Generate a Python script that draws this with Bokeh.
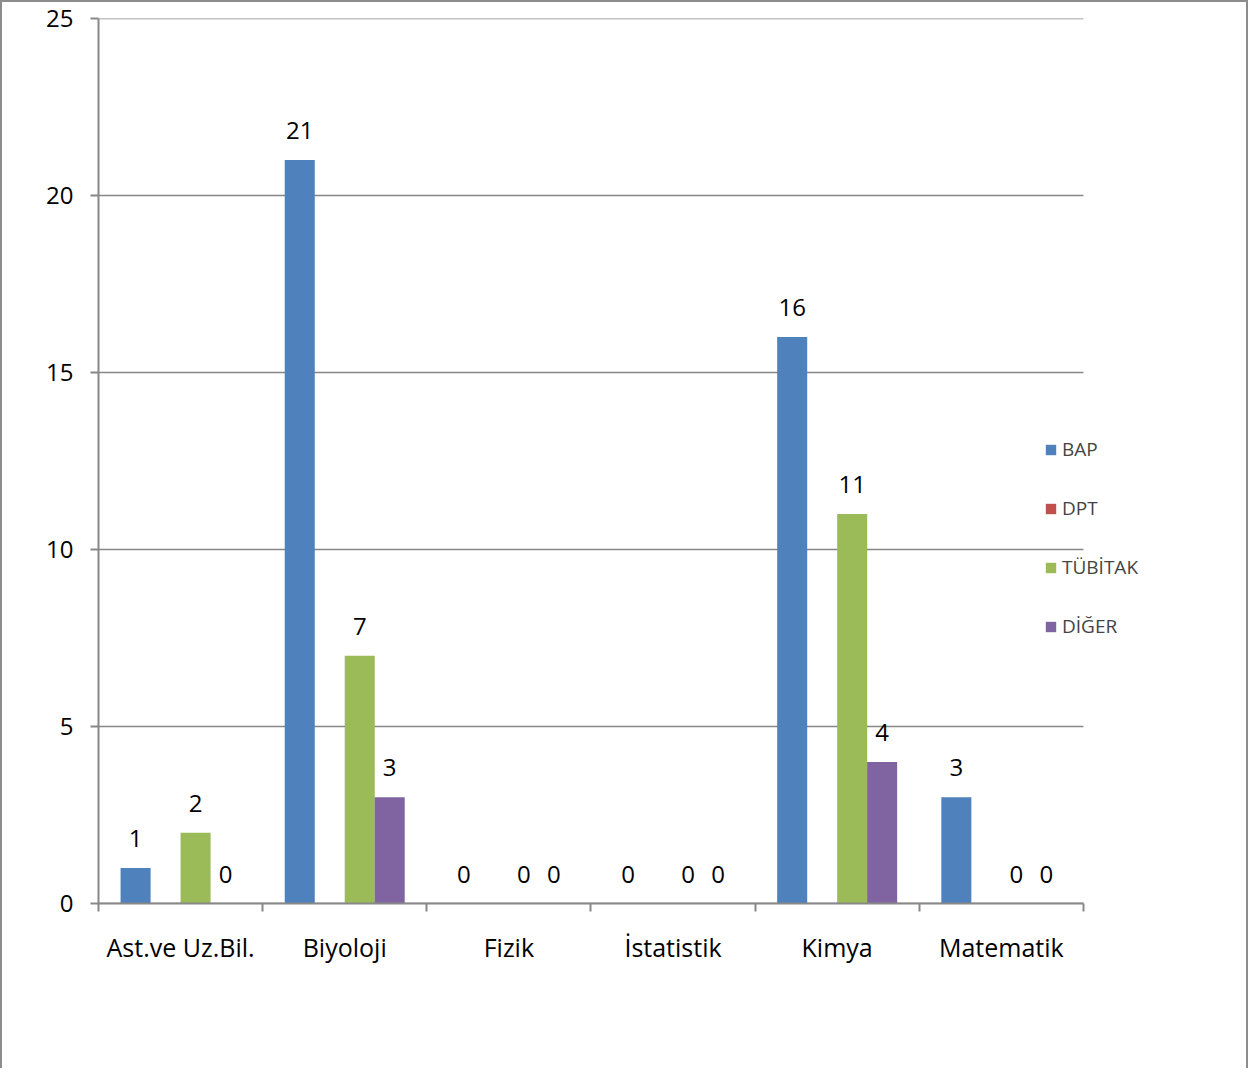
import numpy as np
from bokeh.plotting import figure
from bokeh.models import ColumnDataSource, FixedTicker, Legend, LegendItem, Range1d
from bokeh.core.properties import value
from bokeh.embed import file_html
from bokeh.resources import INLINE

categories = ["Ast.ve Uz.Bil.", "Biyoloji", "Fizik", "İstatistik", "Kimya", "Matematik"]
series_names = ["BAP", "DPT", "TÜBİTAK", "DİĞER"]
bap = [1, 21, 0, 0, 16, 3]
dpt = [np.nan, np.nan, np.nan, np.nan, np.nan, np.nan]
tubitak = [2, 7, 0, 0, 11, 0]
diger = [0, 3, 0, 0, 4, 0]
colors = ["#4F81BD", "#C0504D", "#9BBB59", "#8064A2"]
y_ticks = [0, 5, 10, 15, 20, 25]

FONT = "Open Sans"
offsets = [-0.274, -0.0915, 0.0915, 0.274]
bar_w = 0.183
n = len(categories)

p = figure(width=1248, height=1068, output_backend="svg", toolbar_location=None,
           x_range=Range1d(0, n + 0.75), y_range=Range1d(0, 25),
           min_border_left=96, min_border_right=44, min_border_top=16, min_border_bottom=167)
p.styles = {"border": "2px solid #8c8c8c", "border-bottom": "none"}
p.outline_line_color = None
p.background_fill_color = "white"
p.border_fill_color = "white"

# horizontal gridlines spanning the category axis only
gsrc = ColumnDataSource(dict(x0=[0] * len(y_ticks), x1=[n] * len(y_ticks), y=y_ticks))
p.segment(x0="x0", x1="x1", y0="y", y1="y", source=gsrc, line_color="#868686", line_width=1.5)

centers = np.arange(n) + 0.5
renderers = []
for name, vals, col, off in zip(series_names, [bap, dpt, tubitak, diger], colors, offsets):
    vals = np.array(vals, dtype=float)
    src = ColumnDataSource(dict(x=centers + off, top=vals))
    r = p.vbar(x="x", top="top", width=bar_w, bottom=0, source=src, fill_color=col, line_color=None)
    renderers.append(r)
    mask = ~np.isnan(vals)
    if mask.any():
        lsrc = ColumnDataSource(dict(x=(centers + off)[mask], y=vals[mask],
                                     t=[str(int(v)) for v in vals[mask]]))
        p.text(x="x", y="y", text="t", source=lsrc, text_align="center", text_baseline="bottom",
               y_offset=-21, text_font=value(FONT), text_font_size="24px", text_color="black")

# y axis
p.yaxis.ticker = FixedTicker(ticks=y_ticks)
p.yaxis.axis_line_color = "#888888"
p.yaxis.axis_line_width = 2
p.yaxis.major_tick_line_color = "#888888"
p.yaxis.major_tick_line_width = 2
p.yaxis.major_tick_out = 8
p.yaxis.major_tick_in = 0
p.yaxis.minor_tick_line_color = None
p.yaxis.major_label_standoff = 17
p.yaxis.major_label_text_font = FONT
p.yaxis.major_label_text_font_size = "24px"
p.yaxis.major_label_text_color = "black"

# x axis (drawn only over the six categories)
p.xaxis.bounds = (0, n)
p.xaxis.ticker = FixedTicker(ticks=list(centers), minor_ticks=list(range(n + 1)))
p.xaxis.major_label_overrides = {float(c): cat for c, cat in zip(centers, categories)}
p.xaxis.axis_line_color = "#888888"
p.xaxis.axis_line_width = 2
p.xaxis.major_tick_line_color = None
p.xaxis.major_tick_out = 0
p.xaxis.major_tick_in = 0
p.xaxis.minor_tick_line_color = "#888888"
p.xaxis.minor_tick_line_width = 2
p.xaxis.minor_tick_out = 8
p.xaxis.minor_tick_in = 0
p.xaxis.major_label_standoff = 18
p.xaxis.major_label_text_font = FONT
p.xaxis.major_label_text_font_size = "25px"
p.xaxis.major_label_text_color = "black"

p.xgrid.grid_line_color = None
p.ygrid.grid_line_color = None

legend = Legend(items=[LegendItem(label=nm, renderers=[r]) for nm, r in zip(series_names, renderers)],
                location=(946, 264), orientation="vertical", padding=0, margin=0,
                spacing=33, label_height=22, glyph_height=13, glyph_width=13,
                label_standoff=5, label_text_font=FONT, label_text_font_size="19px",
                border_line_color=None, background_fill_alpha=0)
p.add_layout(legend, "center")

open("out.html", "w").write(file_html(p, INLINE))
